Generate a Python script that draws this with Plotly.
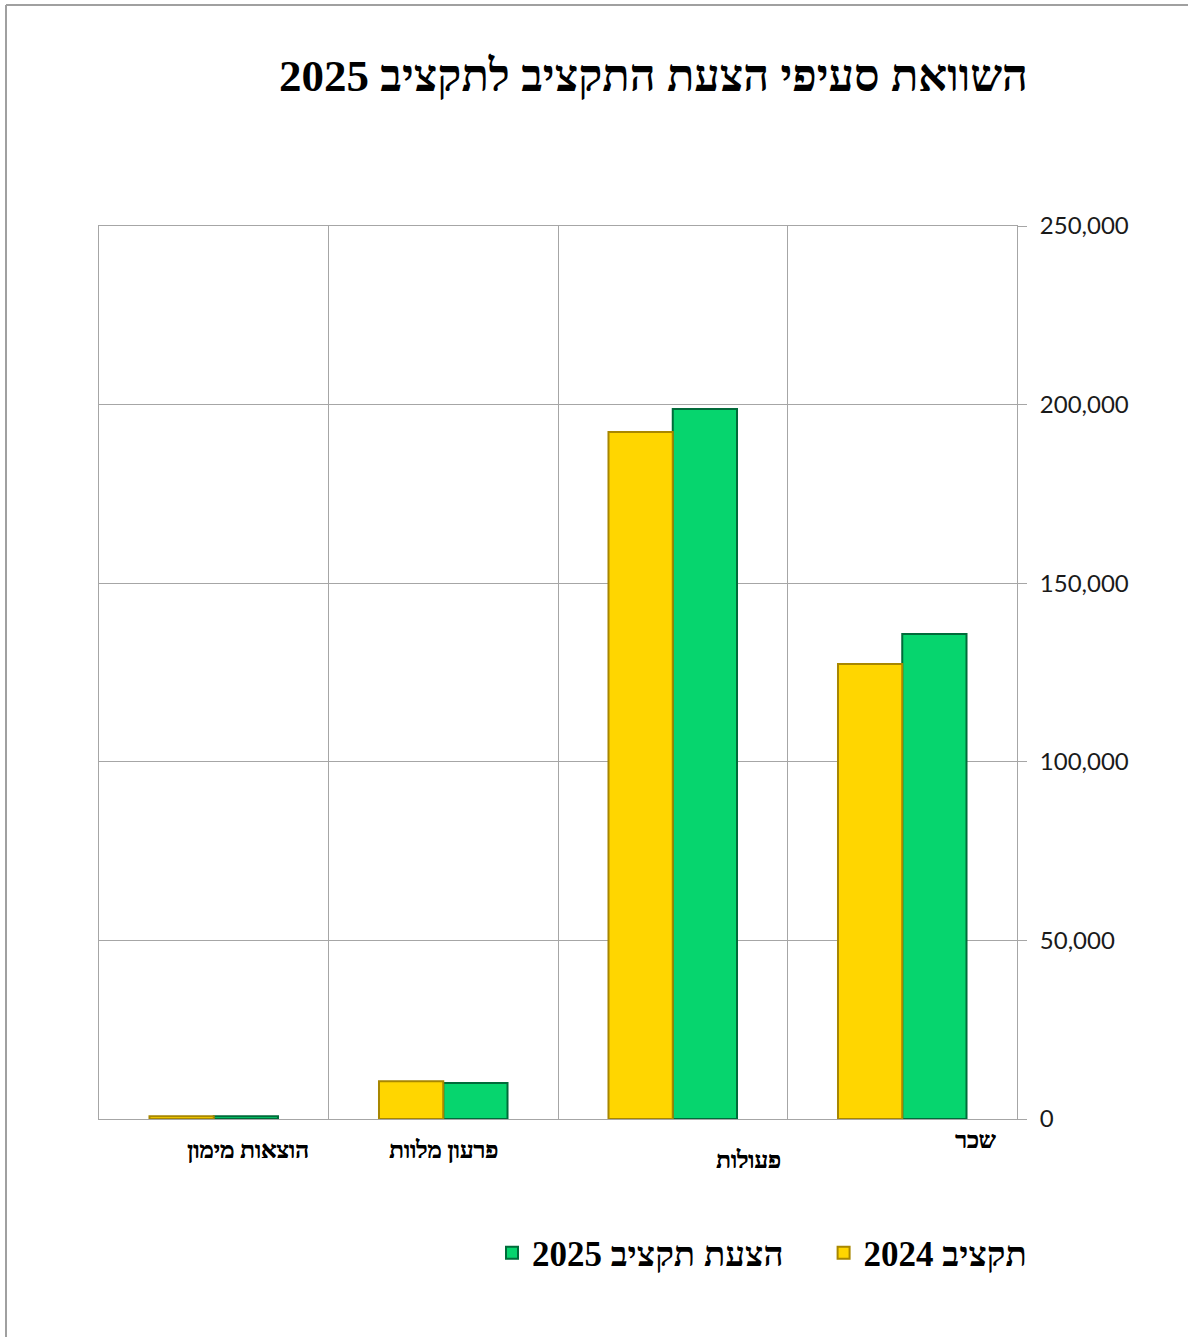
import plotly.graph_objects as go

categories = ["שכר", "פעולות", "פרעון מלוות", "הוצאות מימון"]
budget_2024 = [127400, 192300, 10600, 800]
proposal_2025 = [135800, 198800, 10100, 800]
series_names = ["הצעת תקציב 2025", "תקציב 2024"]
title_text = "השוואת סעיפי הצעת התקציב לתקציב 2025"
y_ticks = [0, 50000, 100000, 150000, 200000, 250000]

RLE, PDF = "\u202B", "\u202C"
def rtl(s):
    return RLE + s + PDF

HEB = "Liberation Serif, DejaVu Serif, Noto Sans, serif"
W, H = 1188, 1337
L, R, T, B = 99, 171, 226, 218
pw, ph = W - L - R, H - T - B

fig = go.Figure()
fig.add_trace(go.Bar(
    x=categories, y=proposal_2025, name=rtl(series_names[0]) + "\u2003",
    marker=dict(color="#06D56E", line=dict(color="#006B3A", width=2)),
))
fig.add_trace(go.Bar(
    x=categories, y=budget_2024, name=rtl(series_names[1]),
    marker=dict(color="#FFD600", line=dict(color="#A88700", width=2)),
))

# category labels (offsets mimic the original layout)
label_dx = [73, 76, 0, 34]
label_dy = [21, 41, 31, 31]
for c, dx, dy in zip(categories, label_dx, label_dy):
    fig.add_annotation(
        x=c, y=0, xref="x", yref="y", text="<b>" + rtl(c) + "</b>",
        showarrow=False, xshift=dx, yshift=-dy, yanchor="middle",
        font=dict(family=HEB, size=24, color="#000000", weight="bold",
                  shadow="0.6px 0px 0px #000000"),
    )

def px_to_paper_x(px):
    return (px - L) / pw

def px_to_paper_y(py):
    return (H - B - py) / ph

# outer chart frame
fig.add_shape(type="line", xref="paper", yref="paper",
              x0=px_to_paper_x(6), x1=px_to_paper_x(1190),
              y0=px_to_paper_y(5), y1=px_to_paper_y(5),
              line=dict(color="#A0A0A0", width=2))
fig.add_shape(type="line", xref="paper", yref="paper",
              x0=px_to_paper_x(6), x1=px_to_paper_x(6),
              y0=px_to_paper_y(5), y1=px_to_paper_y(1340),
              line=dict(color="#A0A0A0", width=2))

fig.update_layout(
    width=W, height=H,
    margin=dict(l=L, r=R, t=T, b=B),
    paper_bgcolor="white", plot_bgcolor="white",
    barmode="group", bargap=0.44, bargroupgap=0.0,
    title=dict(
        text="<b>" + rtl(title_text) + "</b>",
        xref="container", yref="container",
        x=1028 / W, xanchor="right", y=1 - 75 / H, yanchor="middle",
        font=dict(family=HEB, size=45, color="#000000", weight="bold"),
    ),
    legend=dict(
        orientation="h", xref="paper", yref="paper",
        x=px_to_paper_x(762), xanchor="center",
        y=px_to_paper_y(1253), yanchor="middle",
        font=dict(family=HEB, size=35, color="#000000", weight="bold"),
        itemwidth=30,
    ),
    showlegend=True,
)
fig.update_xaxes(
    autorange="reversed", type="category", tickson="boundaries",
    showgrid=True, gridcolor="#A6A6A6", gridwidth=1,
    showline=True, linecolor="#A6A6A6", linewidth=1, mirror=True,
    ticks="", showticklabels=False,
)
fig.update_yaxes(
    side="right", range=[0, 250000], tickvals=y_ticks,
    tickformat=",d", ticks="outside", ticklen=9, tickcolor="#A6A6A6",
    ticklabelstandoff=8,
    showgrid=True, gridcolor="#A6A6A6", gridwidth=1,
    showline=True, linecolor="#A6A6A6", linewidth=1, mirror=True,
    zeroline=False,
    tickfont=dict(family="Lato, Open Sans, sans-serif", size=24, color="#1a1a1a"),
)

fig.write_html("out.html", config={"displayModeBar": False},
               post_script="document.body.style.margin='0';")
